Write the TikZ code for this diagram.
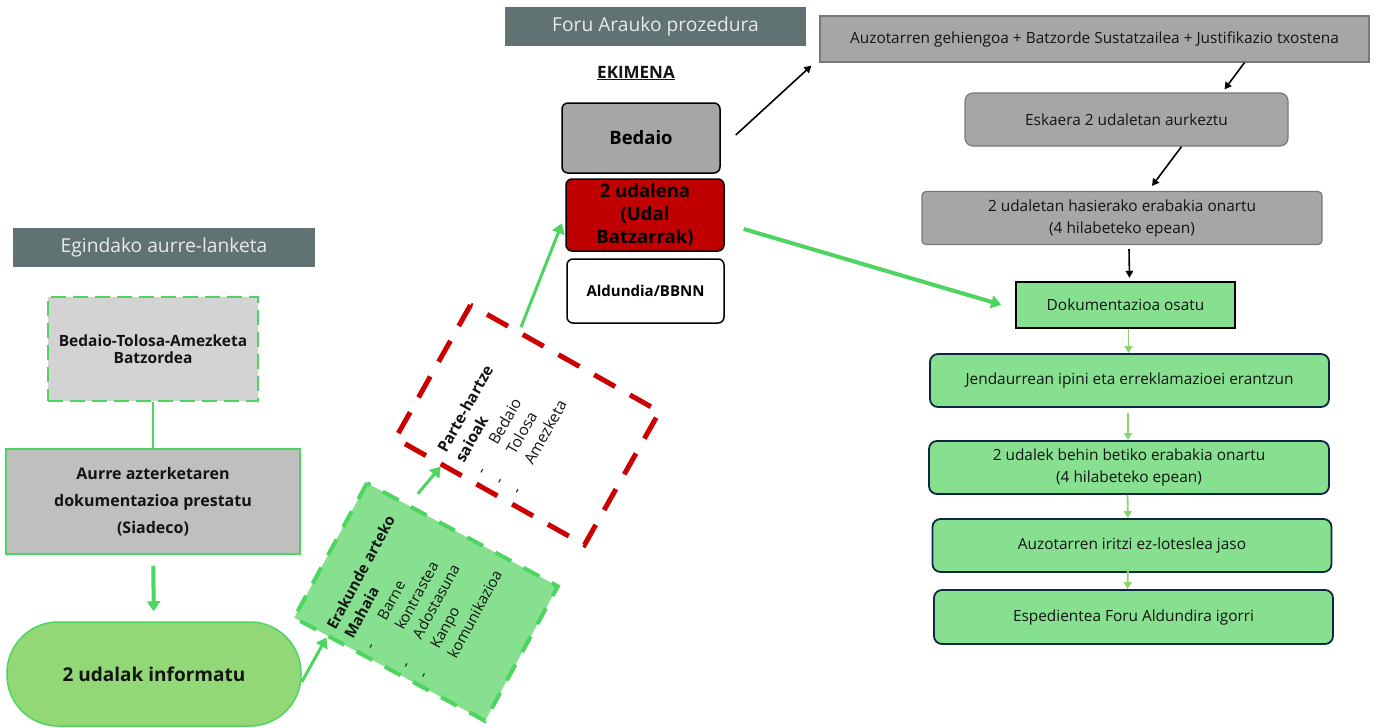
\documentclass[tikz,border=0pt]{standalone}
\usepackage{fontspec}
\setmainfont{Open Sans}
\usetikzlibrary{arrows.meta}

\definecolor{hdrgrey}{RGB}{97,114,114}
\definecolor{hdrtext}{RGB}{232,234,234}
\definecolor{brightgreen}{RGB}{78,212,96}
\definecolor{softgreen}{RGB}{134,224,143}
\definecolor{pillgreen}{RGB}{146,216,118}
\definecolor{palegreen}{RGB}{140,212,110}
\definecolor{udalred}{RGB}{192,0,0}
\definecolor{dashred}{RGB}{204,0,0}
\definecolor{navy}{RGB}{14,40,65}
\definecolor{lightgrey}{RGB}{211,211,211}
\definecolor{midgrey}{RGB}{191,191,191}
\definecolor{stepgrey}{RGB}{166,166,166}
\definecolor{edgegrey}{RGB}{120,120,120}
\definecolor{inkblack}{RGB}{20,20,20}

\begin{document}
\begin{tikzpicture}[
    x=1pt, y=-1pt,
    header/.style={rectangle, fill=hdrgrey, text=hdrtext, minimum height=39pt, font=\fontsize{19.2}{22}\selectfont},
    prebox/.style={rectangle, draw=brightgreen, line width=1.5pt, align=center, text=inkblack, font=\bfseries\fontsize{15.5}{17}\selectfont},
    tilted/.style={rectangle, minimum width=153pt, minimum height=217pt, align=left, text=inkblack},
    initbox/.style={rectangle, rounded corners=6pt, draw=black, line width=1.5pt, align=center, font=\bfseries\fontsize{18.5}{23}\selectfont},
    greystep/.style={rectangle, rounded corners=8pt, fill=stepgrey, draw=edgegrey, line width=1.2pt, align=center, text=inkblack, font=\fontsize{15.4}{22}\selectfont},
    greenstep/.style={rectangle, rounded corners=8pt, fill=softgreen, draw=navy, line width=1.8pt, align=center, text=inkblack, font=\fontsize{15.4}{22}\selectfont},
    thickarrow/.style={-{Triangle[length=10pt,width=13pt]}, draw=brightgreen, line width=4pt},
    blackarrow/.style={-{Triangle[length=7pt,width=7.5pt]}, line width=1.6pt},
    palearrow/.style={-{Triangle[length=7pt,width=8pt]}, draw=palegreen, line width=1.8pt}
]
\useasboundingbox (0,0) rectangle (1379,728);

% Egindako aurre-lanketa
\node[header, minimum width=302pt] (hdrpre) at (164,247.5) {Egindako aurre-lanketa};
\node[prebox, fill=lightgrey, dash pattern=on 15pt off 7pt, line width=2pt, minimum width=210pt, minimum height=104pt] (batzordea) at (153,349) {Bedaio-Tolosa-Amezketa\\Batzordea};
\node[prebox, fill=midgrey, minimum width=294pt, minimum height=105pt, font=\bfseries\fontsize{16}{27}\selectfont] (aurre) at (153,501.5) {Aurre azterketaren\\dokumentazioa prestatu\\(Siadeco)};
\node[prebox, fill=pillgreen, rounded corners=51pt, minimum width=294pt, minimum height=104pt, font=\bfseries\fontsize{19}{23}\selectfont] (informatu) at (154,674) {2 udalak informatu};

\node[tilted, draw=brightgreen, fill=softgreen, line width=4pt, dash pattern=on 18pt off 14pt, rotate=61.6, text width=136pt, font=\fontsize{15}{20}\selectfont] (mahaia) at (426,602) {%
\begin{tabular}{@{}p{32pt}@{}l@{}}
\multicolumn{2}{@{}l@{}}{\bfseries Erakunde arteko}\\
\multicolumn{2}{@{}l@{}}{\bfseries Mahaia}\\
\raisebox{-3pt}{-} & Barne\\
 & kontrastea\\
\raisebox{-3pt}{-} & Adostasuna\\
\raisebox{-3pt}{-} & Kanpo\\
 & komunikazioa\\[20pt]
\end{tabular}};

\node[tilted, draw=dashred, fill=white, line width=5pt, dash pattern=on 24pt off 17pt, rotate=60.6, text width=130pt, font=\fontsize{15.5}{20.3}\selectfont] (saioak) at (527.5,425) {%
\begin{tabular}{@{}p{32pt}@{}l@{}}
\multicolumn{2}{@{}l@{}}{\bfseries Parte-hartze}\\
\multicolumn{2}{@{}l@{}}{\bfseries saioak}\\
\raisebox{-3pt}{-} & Bedaio\\
\raisebox{-3pt}{-} & Tolosa\\
\raisebox{-3pt}{-} & Amezketa\\[40pt]
\end{tabular}};

% Foru Arauko prozedura
\node[header, minimum width=301pt] (hdrforu) at (655.5,26.5) {Foru Arauko prozedura};
\node[font=\bfseries\fontsize{17}{20}\selectfont, text=inkblack] (ekimena) at (636,73) {\underline{EKIMENA}};
\node[initbox, fill=stepgrey, minimum width=158pt, minimum height=70pt] (bedaio) at (641,138) {Bedaio};
\node[initbox, fill=udalred, minimum width=158pt, minimum height=72pt] (udalena) at (645,215) {2 udalena\\(Udal\\Batzarrak)};
\node[initbox, fill=white, minimum width=157pt, minimum height=64pt, font=\bfseries\fontsize{15}{18}\selectfont] (aldundia) at (645.5,291) {Aldundia/BBNN};

\node[greystep, rounded corners=0pt, minimum width=549pt, minimum height=46pt] (auzo) at (1094.5,39) {Auzotarren gehiengoa + Batzorde Sustatzailea + Justifikazio txostena};
\node[greystep, minimum width=323pt, minimum height=53pt] (eskaera) at (1126.5,119.5) {Eskaera 2 udaletan aurkeztu};
\node[greystep, rounded corners=4pt, minimum width=400pt, minimum height=53pt] (hasiera) at (1122,218) {2 udaletan hasierako erabakia onartu\\(4 hilabeteko epean)};
\node[greenstep, rounded corners=0pt, draw=black, minimum width=219pt, minimum height=46pt] (doku) at (1125.5,304.7) {Dokumentazioa osatu};
\node[greenstep, minimum width=399pt, minimum height=53pt] (jendau) at (1129.5,380.5) {Jendaurrean ipini eta erreklamazioei erantzun};
\node[greenstep, minimum width=400pt, minimum height=53pt] (behin) at (1129,467.5) {2 udalek behin betiko erabakia onartu\\(4 hilabeteko epean)};
\node[greenstep, minimum width=399pt, minimum height=53pt] (iritzi) at (1132,545.5) {Auzotarren iritzi ez-loteslea jaso};
\node[greenstep, minimum width=399pt, minimum height=54pt] (espedi) at (1133.5,617) {Espedientea Foru Aldundira igorri};

% Connections
\draw[brightgreen, line width=1.5pt] (batzordea) -- (aurre);
\draw[thickarrow, shorten <=11pt, shorten >=10pt] (aurre) -- (informatu);
\draw[thickarrow, line width=3pt] ([yshift=-8pt]informatu.east) -- (mahaia.138);
\draw[thickarrow, line width=3pt, shorten <=13pt] (mahaia.38) -- (saioak.145);
\draw[thickarrow, line width=3pt, shorten <=3pt, shorten >=9pt] (saioak.34) -- (udalena.west);
\draw[thickarrow] ([xshift=19pt,yshift=-14pt]udalena.east) -- ([xshift=-14pt]doku.west);

\draw[blackarrow] ([xshift=15pt,yshift=3pt]bedaio.east) -- ([xshift=-8pt,yshift=-3pt]auzo.south west);
\draw[blackarrow] ([xshift=150pt]auzo.south) -- ([xshift=98pt,yshift=3pt]eskaera.north);
\draw[blackarrow] ([xshift=55pt]eskaera.south) -- ([xshift=30pt,yshift=5pt]hasiera.north);
\draw[blackarrow] ([xshift=7pt,yshift=-4pt]hasiera.south) -- ([xshift=4pt,yshift=3pt]doku.north);

\draw[palearrow] ([xshift=3pt]doku.south) -- ([xshift=-1pt]jendau.north);
\draw[palearrow] ([xshift=-1.5pt,yshift=-5pt]jendau.south) -- ([xshift=-1pt]behin.north);
\draw[palearrow] ([xshift=-1.5pt]behin.south) -- ([xshift=-4pt]iritzi.north);
\draw[palearrow] ([xshift=-4pt,yshift=7pt]iritzi.south) -- ([xshift=-6pt]espedi.north);

\end{tikzpicture}
\end{document}
